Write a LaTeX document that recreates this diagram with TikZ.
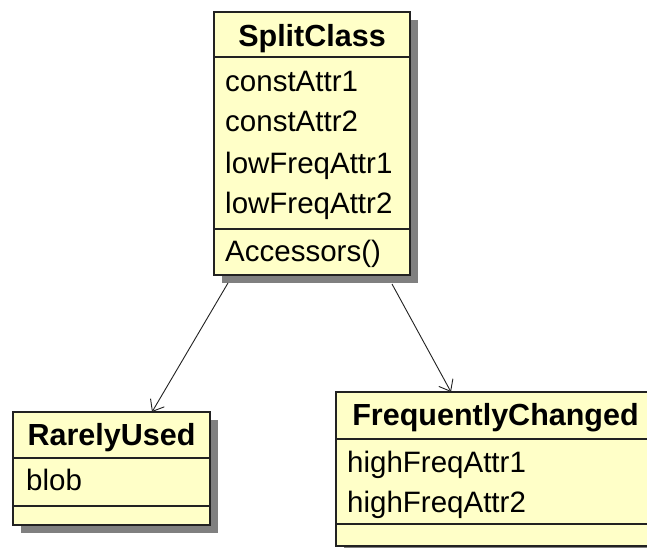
\documentclass[tikz,border=0pt]{standalone}
\usepackage{fontspec}
\setmainfont{Liberation Sans}
\usetikzlibrary{shadows,arrows.meta}
\definecolor{umlfill}{HTML}{FFFFC8}
\definecolor{umlshadow}{HTML}{808080}
\definecolor{umlline}{HTML}{222222}
\begin{document}
\begin{tikzpicture}[x=1pt,y=-1pt,
  classbox/.style={draw=umlline, line width=1.2pt, fill=umlfill, inner sep=0pt, outer sep=0pt, anchor=north west,
    drop shadow={shadow xshift=8pt, shadow yshift=-8pt, fill=umlshadow, opacity=1}},
  rowtext/.style={anchor=base west, inner sep=0pt, font=\fontsize{29.5}{30}\selectfont},
  titletext/.style={anchor=base, inner sep=0pt, font=\fontsize{30.5}{31}\selectfont\bfseries},
  divider/.style={draw=umlline, line width=1.2pt},
  dep/.style={-{Straight Barb[length=10pt,width=16pt]}, line width=0.9pt, draw=umlline}]
\clip (0,0) rectangle (647,548);
\fill[white] (0,0) rectangle (647,548);
% SplitClass
\node[classbox, minimum width=196pt, minimum height=263pt] (split) at (214,12) {};
\draw[divider] ([yshift=-45pt]split.north west) -- ([yshift=-45pt]split.north east);
\draw[divider] ([yshift=-217pt]split.north west) -- ([yshift=-217pt]split.north east);
\node[titletext] (splitT) at (312,47) {SplitClass};
\node[rowtext] (sa1) at (225,92) {constAttr1};
\node[rowtext] (sa2) at (225,132) {constAttr2};
\node[rowtext] (sa3) at (225,173) {lowFreqAttr1};
\node[rowtext] (sa4) at (225,213) {lowFreqAttr2};
\node[rowtext] (sm1) at (225,261) {Accessors()};
% RarelyUsed
\node[classbox, minimum width=197pt, minimum height=113pt] (rare) at (13,412) {};
\draw[divider] ([yshift=-46pt]rare.north west) -- ([yshift=-46pt]rare.north east);
\draw[divider] ([yshift=-94pt]rare.north west) -- ([yshift=-94pt]rare.north east);
\node[titletext] (rareT) at (111.5,445) {RarelyUsed};
\node[rowtext] (ra1) at (26,490) {blob};
% FrequentlyChanged
\node[classbox, minimum width=319pt, minimum height=154pt] (freq) at (336,392) {};
\draw[divider] ([yshift=-47pt]freq.north west) -- ([yshift=-47pt]freq.north east);
\draw[divider] ([yshift=-132pt]freq.north west) -- ([yshift=-132pt]freq.north east);
\node[titletext] (freqT) at (495.5,425) {FrequentlyChanged};
\node[rowtext] (fa1) at (347,472) {highFreqAttr1};
\node[rowtext] (fa2) at (347,512) {highFreqAttr2};
% connectors
\draw[dep] ([xshift=14pt,yshift=-8pt]split.south west) -- ([xshift=139pt]rare.north west);
\draw[dep] ([xshift=178pt,yshift=-9pt]split.south west) -- ([xshift=115pt]freq.north west);
\end{tikzpicture}
\end{document}
